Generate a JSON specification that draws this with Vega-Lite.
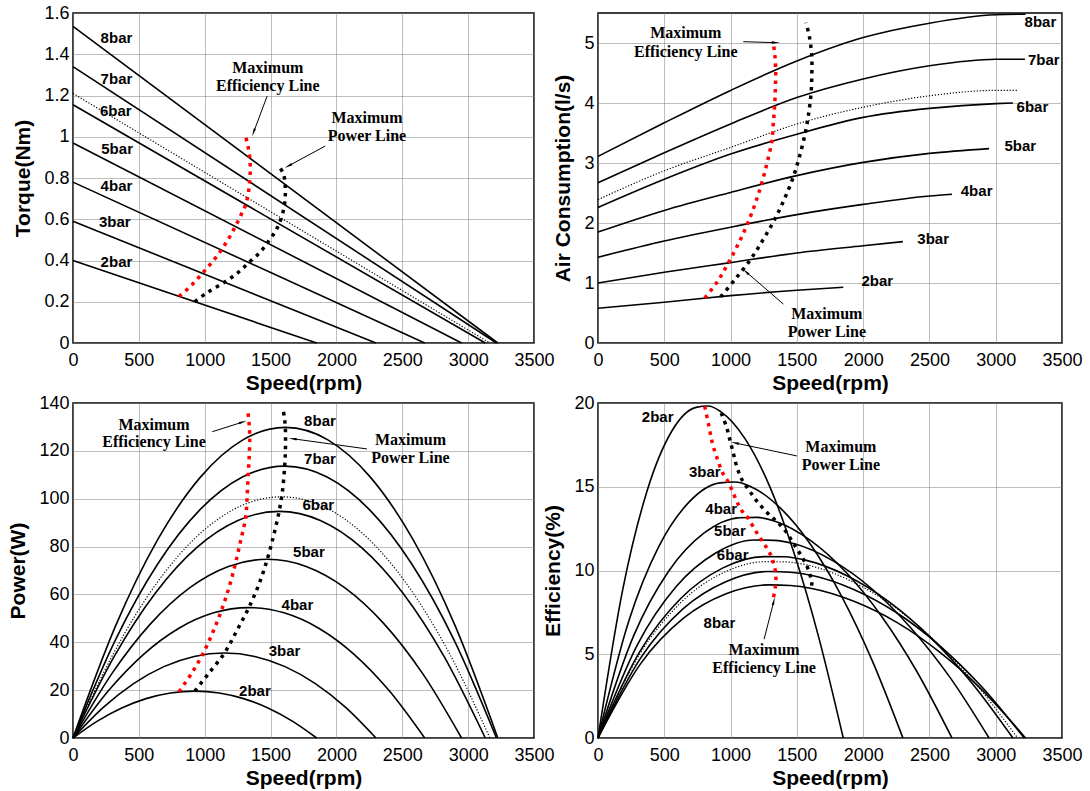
{
  "$schema": "https://vega.github.io/schema/vega-lite/v6.json",
  "padding": {"left": 7, "top": 3, "right": 0, "bottom": 0},
  "background": "white",
  "bounds": "flush",
  "columns": 2,
  "spacing": {"row": 60, "column": 64},
  "datasets": {
    "tq": [
      {"s":"8bar","x":0,"y":1.535},{"s":"8bar","x":3225,"y":0},
      {"s":"7bar","x":0,"y":1.34},{"s":"7bar","x":3215,"y":0},
      {"s":"dotted","x":0,"y":1.21},{"s":"dotted","x":3165,"y":0},
      {"s":"6bar","x":0,"y":1.155},{"s":"6bar","x":3130,"y":0},
      {"s":"5bar","x":0,"y":0.97},{"s":"5bar","x":2950,"y":0},
      {"s":"4bar","x":0,"y":0.78},{"s":"4bar","x":2670,"y":0},
      {"s":"3bar","x":0,"y":0.59},{"s":"3bar","x":2300,"y":0},
      {"s":"2bar","x":0,"y":0.40},{"s":"2bar","x":1850,"y":0},
      {"s":"maxeff","x":805,"y":0.226},{"s":"maxeff","x":900,"y":0.28},{"s":"maxeff","x":982,"y":0.338},{"s":"maxeff","x":1060,"y":0.395},{"s":"maxeff","x":1126,"y":0.451},{"s":"maxeff","x":1185,"y":0.51},{"s":"maxeff","x":1232,"y":0.565},{"s":"maxeff","x":1275,"y":0.62},{"s":"maxeff","x":1311,"y":0.671},{"s":"maxeff","x":1332,"y":0.73},{"s":"maxeff","x":1342,"y":0.79},{"s":"maxeff","x":1346,"y":0.85},{"s":"maxeff","x":1340,"y":0.91},{"s":"maxeff","x":1327,"y":0.96},{"s":"maxeff","x":1313,"y":0.995},
      {"s":"maxpow","x":925,"y":0.20},{"s":"maxpow","x":1020,"y":0.245},{"s":"maxpow","x":1150,"y":0.295},{"s":"maxpow","x":1250,"y":0.34},{"s":"maxpow","x":1335,"y":0.39},{"s":"maxpow","x":1420,"y":0.44},{"s":"maxpow","x":1475,"y":0.485},{"s":"maxpow","x":1530,"y":0.535},{"s":"maxpow","x":1565,"y":0.578},{"s":"maxpow","x":1600,"y":0.65},{"s":"maxpow","x":1612,"y":0.72},{"s":"maxpow","x":1610,"y":0.77},{"s":"maxpow","x":1598,"y":0.82},{"s":"maxpow","x":1565,"y":0.855}
    ],
    "tq_lab": [
      {"t":"8bar","x":330,"y":1.479},{"t":"7bar","x":330,"y":1.282},{"t":"6bar","x":325,"y":1.127},{"t":"5bar","x":335,"y":0.942},{"t":"4bar","x":330,"y":0.761},{"t":"3bar","x":317,"y":0.587},{"t":"2bar","x":330,"y":0.395}
    ],
    "tq_ann": [
      {"t":"Maximum","x":1479,"y":1.334},{"t":"Efficiency Line","x":1479,"y":1.245},{"t":"Maximum","x":2232,"y":1.092},{"t":"Power Line","x":2232,"y":1.003}
    ],
    "tq_arr": [
      {"id":"e","x":1374,"y":1.027,"x2":1474,"y2":1.197},
      {"id":"p","x":1643,"y":0.861,"x2":1915,"y2":0.955}
    ],
    "air": [
      {"s":"8bar","x":0,"y":3.11},{"s":"8bar","x":500,"y":3.67},{"s":"8bar","x":1000,"y":4.21},{"s":"8bar","x":1500,"y":4.70},{"s":"8bar","x":2000,"y":5.09},{"s":"8bar","x":2500,"y":5.33},{"s":"8bar","x":3000,"y":5.47},{"s":"8bar","x":3225,"y":5.48},
      {"s":"7bar","x":0,"y":2.67},{"s":"7bar","x":500,"y":3.17},{"s":"7bar","x":1000,"y":3.65},{"s":"7bar","x":1500,"y":4.09},{"s":"7bar","x":2000,"y":4.40},{"s":"7bar","x":2500,"y":4.62},{"s":"7bar","x":3000,"y":4.73},{"s":"7bar","x":3220,"y":4.73},
      {"s":"dotted","x":0,"y":2.39},{"s":"dotted","x":500,"y":2.87},{"s":"dotted","x":1000,"y":3.26},{"s":"dotted","x":1500,"y":3.65},{"s":"dotted","x":2000,"y":3.93},{"s":"dotted","x":2500,"y":4.12},{"s":"dotted","x":3000,"y":4.21},{"s":"dotted","x":3170,"y":4.21},
      {"s":"6bar","x":0,"y":2.26},{"s":"6bar","x":500,"y":2.73},{"s":"6bar","x":1000,"y":3.15},{"s":"6bar","x":1500,"y":3.48},{"s":"6bar","x":2000,"y":3.76},{"s":"6bar","x":2500,"y":3.91},{"s":"6bar","x":3000,"y":3.99},{"s":"6bar","x":3130,"y":4.0},
      {"s":"5bar","x":0,"y":1.85},{"s":"5bar","x":500,"y":2.21},{"s":"5bar","x":1000,"y":2.51},{"s":"5bar","x":1500,"y":2.79},{"s":"5bar","x":2000,"y":3.01},{"s":"5bar","x":2500,"y":3.16},{"s":"5bar","x":2950,"y":3.24},
      {"s":"4bar","x":0,"y":1.43},{"s":"4bar","x":500,"y":1.70},{"s":"4bar","x":1000,"y":1.93},{"s":"4bar","x":1500,"y":2.14},{"s":"4bar","x":2000,"y":2.31},{"s":"4bar","x":2500,"y":2.45},{"s":"4bar","x":2670,"y":2.48},
      {"s":"3bar","x":0,"y":1.0},{"s":"3bar","x":500,"y":1.18},{"s":"3bar","x":1000,"y":1.34},{"s":"3bar","x":1500,"y":1.50},{"s":"3bar","x":2000,"y":1.62},{"s":"3bar","x":2300,"y":1.69},
      {"s":"2bar","x":0,"y":0.58},{"s":"2bar","x":500,"y":0.68},{"s":"2bar","x":1000,"y":0.79},{"s":"2bar","x":1500,"y":0.88},{"s":"2bar","x":1850,"y":0.93},
      {"s":"maxeff","x":805,"y":0.75},{"s":"maxeff","x":900,"y":1.02},{"s":"maxeff","x":982,"y":1.33},{"s":"maxeff","x":1060,"y":1.66},{"s":"maxeff","x":1126,"y":1.98},{"s":"maxeff","x":1185,"y":2.32},{"s":"maxeff","x":1232,"y":2.64},{"s":"maxeff","x":1275,"y":3.0},{"s":"maxeff","x":1311,"y":3.36},{"s":"maxeff","x":1322,"y":3.65},{"s":"maxeff","x":1332,"y":3.94},{"s":"maxeff","x":1338,"y":4.25},{"s":"maxeff","x":1340,"y":4.54},{"s":"maxeff","x":1334,"y":4.8},{"s":"maxeff","x":1320,"y":5.03},
      {"s":"maxpow","x":925,"y":0.77},{"s":"maxpow","x":1030,"y":1.05},{"s":"maxpow","x":1150,"y":1.39},{"s":"maxpow","x":1245,"y":1.72},{"s":"maxpow","x":1335,"y":2.07},{"s":"maxpow","x":1410,"y":2.42},{"s":"maxpow","x":1475,"y":2.78},{"s":"maxpow","x":1525,"y":3.15},{"s":"maxpow","x":1565,"y":3.52},{"s":"maxpow","x":1590,"y":3.84},{"s":"maxpow","x":1607,"y":4.16},{"s":"maxpow","x":1613,"y":4.48},{"s":"maxpow","x":1612,"y":4.79},{"s":"maxpow","x":1595,"y":5.1},{"s":"maxpow","x":1569,"y":5.34}
    ],
    "air_lab": [
      {"t":"8bar","x":3337,"y":5.355},{"t":"7bar","x":3363,"y":4.717},{"t":"6bar","x":3277,"y":3.935},{"t":"5bar","x":3185,"y":3.285},{"t":"4bar","x":2856,"y":2.536},{"t":"3bar","x":2528,"y":1.731},{"t":"2bar","x":2107,"y":1.027}
    ],
    "air_ann": [
      {"t":"Maximum","x":662,"y":5.161},{"t":"Efficiency Line","x":662,"y":4.856},{"t":"Maximum","x":1726,"y":0.483},{"t":"Power Line","x":1726,"y":0.189}
    ],
    "air_arr": [
      {"id":"e","x":1332,"y":5.006,"x2":1096,"y2":5.022},
      {"id":"p","x":1122,"y":1.176,"x2":1398,"y2":0.649}
    ],
    "pw": [
      {"s":"2bar","x":0,"y":0},{"s":"2bar","x":185,"y":7.06},{"s":"2bar","x":370,"y":12.54},{"s":"2bar","x":555,"y":16.46},{"s":"2bar","x":740,"y":18.82},{"s":"2bar","x":925,"y":19.6},{"s":"2bar","x":1110,"y":18.82},{"s":"2bar","x":1295,"y":16.46},{"s":"2bar","x":1480,"y":12.54},{"s":"2bar","x":1665,"y":7.06},{"s":"2bar","x":1850,"y":0},
      {"s":"3bar","x":0,"y":0},{"s":"3bar","x":230,"y":12.78},{"s":"3bar","x":460,"y":22.72},{"s":"3bar","x":690,"y":29.82},{"s":"3bar","x":920,"y":34.08},{"s":"3bar","x":1150,"y":35.5},{"s":"3bar","x":1380,"y":34.08},{"s":"3bar","x":1610,"y":29.82},{"s":"3bar","x":1840,"y":22.72},{"s":"3bar","x":2070,"y":12.78},{"s":"3bar","x":2300,"y":0},
      {"s":"4bar","x":0,"y":0},{"s":"4bar","x":267,"y":19.62},{"s":"4bar","x":534,"y":34.88},{"s":"4bar","x":801,"y":45.78},{"s":"4bar","x":1068,"y":52.32},{"s":"4bar","x":1335,"y":54.5},{"s":"4bar","x":1602,"y":52.32},{"s":"4bar","x":1869,"y":45.78},{"s":"4bar","x":2136,"y":34.88},{"s":"4bar","x":2403,"y":19.62},{"s":"4bar","x":2670,"y":0},
      {"s":"5bar","x":0,"y":0},{"s":"5bar","x":295,"y":26.89},{"s":"5bar","x":590,"y":47.81},{"s":"5bar","x":885,"y":62.75},{"s":"5bar","x":1180,"y":71.71},{"s":"5bar","x":1475,"y":74.7},{"s":"5bar","x":1770,"y":71.71},{"s":"5bar","x":2065,"y":62.75},{"s":"5bar","x":2360,"y":47.81},{"s":"5bar","x":2655,"y":26.89},{"s":"5bar","x":2950,"y":0},
      {"s":"6bar","x":0,"y":0},{"s":"6bar","x":313,"y":34.09},{"s":"6bar","x":626,"y":60.61},{"s":"6bar","x":939,"y":79.55},{"s":"6bar","x":1252,"y":90.91},{"s":"6bar","x":1565,"y":94.7},{"s":"6bar","x":1878,"y":90.91},{"s":"6bar","x":2191,"y":79.55},{"s":"6bar","x":2504,"y":60.61},{"s":"6bar","x":2817,"y":34.09},{"s":"6bar","x":3130,"y":0},
      {"s":"dotted","x":0,"y":0},{"s":"dotted","x":316.5,"y":36.29},{"s":"dotted","x":633,"y":64.51},{"s":"dotted","x":949.5,"y":84.67},{"s":"dotted","x":1266,"y":96.77},{"s":"dotted","x":1582.5,"y":100.8},{"s":"dotted","x":1899,"y":96.77},{"s":"dotted","x":2215.5,"y":84.67},{"s":"dotted","x":2532,"y":64.51},{"s":"dotted","x":2848.5,"y":36.29},{"s":"dotted","x":3165,"y":0},
      {"s":"7bar","x":0,"y":0},{"s":"7bar","x":321.5,"y":40.9},{"s":"7bar","x":643,"y":72.7},{"s":"7bar","x":964.5,"y":95.42},{"s":"7bar","x":1286,"y":109.06},{"s":"7bar","x":1607.5,"y":113.6},{"s":"7bar","x":1929,"y":109.06},{"s":"7bar","x":2250.5,"y":95.42},{"s":"7bar","x":2572,"y":72.7},{"s":"7bar","x":2893.5,"y":40.9},{"s":"7bar","x":3215,"y":0},
      {"s":"8bar","x":0,"y":0},{"s":"8bar","x":322.5,"y":46.73},{"s":"8bar","x":645,"y":83.07},{"s":"8bar","x":967.5,"y":109.03},{"s":"8bar","x":1290,"y":124.61},{"s":"8bar","x":1612.5,"y":129.8},{"s":"8bar","x":1935,"y":124.61},{"s":"8bar","x":2257.5,"y":109.03},{"s":"8bar","x":2580,"y":83.07},{"s":"8bar","x":2902.5,"y":46.73},{"s":"8bar","x":3225,"y":0},
      {"s":"maxeff","x":805,"y":19.3},{"s":"maxeff","x":900,"y":27},{"s":"maxeff","x":982,"y":34.7},{"s":"maxeff","x":1060,"y":44},{"s":"maxeff","x":1126,"y":53.2},{"s":"maxeff","x":1185,"y":63},{"s":"maxeff","x":1232,"y":72.7},{"s":"maxeff","x":1275,"y":83},{"s":"maxeff","x":1311,"y":92.2},{"s":"maxeff","x":1322,"y":101},{"s":"maxeff","x":1330,"y":110},{"s":"maxeff","x":1338,"y":118},{"s":"maxeff","x":1342,"y":126},{"s":"maxeff","x":1336,"y":132},{"s":"maxeff","x":1326,"y":137.5},
      {"s":"maxpow","x":925,"y":19.6},{"s":"maxpow","x":1030,"y":27},{"s":"maxpow","x":1150,"y":35.5},{"s":"maxpow","x":1245,"y":45},{"s":"maxpow","x":1335,"y":54.5},{"s":"maxpow","x":1410,"y":64},{"s":"maxpow","x":1475,"y":74.7},{"s":"maxpow","x":1525,"y":85},{"s":"maxpow","x":1565,"y":94.7},{"s":"maxpow","x":1592,"y":104},{"s":"maxpow","x":1607,"y":113.6},{"s":"maxpow","x":1613,"y":121},{"s":"maxpow","x":1612,"y":129.8},{"s":"maxpow","x":1605,"y":134},{"s":"maxpow","x":1593,"y":137.7}
    ],
    "pw_lab": [
      {"t":"8bar","x":1875,"y":132.6},{"t":"7bar","x":1875,"y":116.6},{"t":"6bar","x":1862,"y":97.4},{"t":"5bar","x":1791,"y":77.9},{"t":"4bar","x":1704,"y":55.7},{"t":"3bar","x":1606,"y":36.5},{"t":"2bar","x":1381,"y":19.8}
    ],
    "pw_ann": [
      {"t":"Maximum","x":615,"y":130.8},{"t":"Efficiency Line","x":615,"y":123.6},{"t":"Maximum","x":2562,"y":124.7},{"t":"Power Line","x":2562,"y":117.0}
    ],
    "pw_arr": [
      {"id":"e","x":1281,"y":131.9,"x2":1057,"y2":128.0},
      {"id":"p","x":1677,"y":125.0,"x2":2232,"y2":120.8}
    ],
    "ef": [
      {"s":"2bar","x":0,"y":0},{"s":"2bar","x":185,"y":8.80},{"s":"2bar","x":370,"y":14.75},{"s":"2bar","x":555,"y":18.30},{"s":"2bar","x":740,"y":19.74},{"s":"2bar","x":832,"y":19.82},{"s":"2bar","x":925,"y":19.49},{"s":"2bar","x":1110,"y":17.86},{"s":"2bar","x":1295,"y":15.02},{"s":"2bar","x":1480,"y":11.01},{"s":"2bar","x":1665,"y":6.01},{"s":"2bar","x":1850,"y":0},
      {"s":"3bar","x":0,"y":0},{"s":"3bar","x":230,"y":6.93},{"s":"3bar","x":460,"y":11.45},{"s":"3bar","x":690,"y":14.11},{"s":"3bar","x":920,"y":15.23},{"s":"3bar","x":1035,"y":15.28},{"s":"3bar","x":1150,"y":15.02},{"s":"3bar","x":1380,"y":13.69},{"s":"3bar","x":1610,"y":11.48},{"s":"3bar","x":1840,"y":8.43},{"s":"3bar","x":2070,"y":4.59},{"s":"3bar","x":2300,"y":0},
      {"s":"4bar","x":0,"y":0},{"s":"4bar","x":267,"y":6.07},{"s":"4bar","x":534,"y":9.97},{"s":"4bar","x":801,"y":12.24},{"s":"4bar","x":1068,"y":13.15},{"s":"4bar","x":1201,"y":13.17},{"s":"4bar","x":1335,"y":12.94},{"s":"4bar","x":1602,"y":11.80},{"s":"4bar","x":1869,"y":9.91},{"s":"4bar","x":2136,"y":7.30},{"s":"4bar","x":2403,"y":4.00},{"s":"4bar","x":2670,"y":0},
      {"s":"5bar","x":0,"y":0},{"s":"5bar","x":295,"y":5.53},{"s":"5bar","x":590,"y":9.04},{"s":"5bar","x":885,"y":11.03},{"s":"5bar","x":1180,"y":11.82},{"s":"5bar","x":1327,"y":11.80},{"s":"5bar","x":1475,"y":11.61},{"s":"5bar","x":1770,"y":10.59},{"s":"5bar","x":2065,"y":8.91},{"s":"5bar","x":2360,"y":6.57},{"s":"5bar","x":2655,"y":3.62},{"s":"5bar","x":2950,"y":0},
      {"s":"6bar","x":0,"y":0},{"s":"6bar","x":313,"y":5.13},{"s":"6bar","x":626,"y":8.34},{"s":"6bar","x":939,"y":10.14},{"s":"6bar","x":1252,"y":10.83},{"s":"6bar","x":1408,"y":10.82},{"s":"6bar","x":1565,"y":10.62},{"s":"6bar","x":1878,"y":9.69},{"s":"6bar","x":2191,"y":8.16},{"s":"6bar","x":2504,"y":6.04},{"s":"6bar","x":2817,"y":3.32},{"s":"6bar","x":3130,"y":0},
      {"s":"dotted","x":0,"y":0},{"s":"dotted","x":316,"y":5.02},{"s":"dotted","x":633,"y":8.15},{"s":"dotted","x":949,"y":9.88},{"s":"dotted","x":1266,"y":10.53},{"s":"dotted","x":1424,"y":10.51},{"s":"dotted","x":1582,"y":10.32},{"s":"dotted","x":1899,"y":9.41},{"s":"dotted","x":2215,"y":7.94},{"s":"dotted","x":2532,"y":5.88},{"s":"dotted","x":2848,"y":3.24},{"s":"dotted","x":3165,"y":0},
      {"s":"7bar","x":0,"y":0},{"s":"7bar","x":321,"y":4.77},{"s":"7bar","x":643,"y":7.72},{"s":"7bar","x":964,"y":9.33},{"s":"7bar","x":1286,"y":9.94},{"s":"7bar","x":1447,"y":9.90},{"s":"7bar","x":1607,"y":9.72},{"s":"7bar","x":1929,"y":8.87},{"s":"7bar","x":2250,"y":7.49},{"s":"7bar","x":2572,"y":5.55},{"s":"7bar","x":2893,"y":3.07},{"s":"7bar","x":3215,"y":0},
      {"s":"8bar","x":0,"y":0},{"s":"8bar","x":322,"y":4.44},{"s":"8bar","x":645,"y":7.15},{"s":"8bar","x":967,"y":8.61},{"s":"8bar","x":1290,"y":9.14},{"s":"8bar","x":1451,"y":9.10},{"s":"8bar","x":1612,"y":8.93},{"s":"8bar","x":1935,"y":8.15},{"s":"8bar","x":2257,"y":6.89},{"s":"8bar","x":2580,"y":5.11},{"s":"8bar","x":2902,"y":2.83},{"s":"8bar","x":3225,"y":0},
      {"s":"maxeff","x":805,"y":19.8},{"s":"maxeff","x":837,"y":18.6},{"s":"maxeff","x":863,"y":17.6},{"s":"maxeff","x":903,"y":16.6},{"s":"maxeff","x":942,"y":15.8},{"s":"maxeff","x":982,"y":15.3},{"s":"maxeff","x":1021,"y":14.6},{"s":"maxeff","x":1061,"y":13.9},{"s":"maxeff","x":1100,"y":13.4},{"s":"maxeff","x":1126,"y":13.2},{"s":"maxeff","x":1179,"y":12.5},{"s":"maxeff","x":1218,"y":12.0},{"s":"maxeff","x":1253,"y":11.6},{"s":"maxeff","x":1284,"y":11.2},{"s":"maxeff","x":1311,"y":10.8},{"s":"maxeff","x":1324,"y":10.4},{"s":"maxeff","x":1337,"y":10.0},{"s":"maxeff","x":1342,"y":9.5},{"s":"maxeff","x":1337,"y":9.0},{"s":"maxeff","x":1324,"y":8.4},
      {"s":"maxpow","x":929,"y":19.4},{"s":"maxpow","x":968,"y":18.6},{"s":"maxpow","x":995,"y":17.8},{"s":"maxpow","x":1021,"y":17.0},{"s":"maxpow","x":1047,"y":16.2},{"s":"maxpow","x":1087,"y":15.4},{"s":"maxpow","x":1139,"y":14.8},{"s":"maxpow","x":1192,"y":14.2},{"s":"maxpow","x":1258,"y":13.6},{"s":"maxpow","x":1324,"y":13.1},{"s":"maxpow","x":1376,"y":12.7},{"s":"maxpow","x":1429,"y":12.2},{"s":"maxpow","x":1468,"y":11.7},{"s":"maxpow","x":1508,"y":11.2},{"s":"maxpow","x":1547,"y":10.7},{"s":"maxpow","x":1579,"y":10.2},{"s":"maxpow","x":1600,"y":9.7},{"s":"maxpow","x":1613,"y":9.3},{"s":"maxpow","x":1605,"y":8.8}
    ],
    "ef_lab": [
      {"t":"2bar","x":450,"y":19.16},{"t":"3bar","x":805,"y":15.86},{"t":"4bar","x":929,"y":13.7},{"t":"5bar","x":995,"y":12.34},{"t":"6bar","x":1016,"y":10.94},{"t":"8bar","x":916,"y":6.84}
    ],
    "ef_ann": [
      {"t":"Maximum","x":1832,"y":17.36},{"t":"Power Line","x":1832,"y":16.3},{"t":"Maximum","x":1253,"y":5.24},{"t":"Efficiency Line","x":1253,"y":4.16}
    ],
    "ef_arr": [
      {"id":"p","x":1042,"y":17.6,"x2":1500,"y2":16.84},
      {"id":"e","x":1324,"y":8.1,"x2":1253,"y2":5.9}
    ]
  },
  "concat": [
    {
      "width": 461, "height": 330,
      "encoding": {
        "x": {"field": "x", "type": "quantitative", "scale": {"domain": [0, 3500], "nice": false}, "axis": {"title": "Speed(rpm)", "values": [0,500,1000,1500,2000,2500,3000,3500], "format": "d"}},
        "y": {"field": "y", "type": "quantitative", "scale": {"domain": [0, 1.6], "nice": false}, "axis": {"title": "Torque(Nm)", "values": [0,0.2,0.4,0.6,0.8,1,1.2,1.4,1.6], "format": "~g"}}
      },
      "layer": [
        {"data": {"name": "tq"}, "transform": [{"filter": {"field": "s", "oneOf": ["2bar","3bar","4bar","5bar","6bar","7bar","8bar"]}}], "mark": {"type": "line", "color": "black", "strokeWidth": 1.6, "interpolate": "monotone"}, "encoding": {"detail": {"field": "s"}}},
        {"data": {"name": "tq"}, "transform": [{"filter": "datum.s === 'dotted'"}], "mark": {"type": "line", "color": "black", "strokeWidth": 1.2, "strokeDash": [1.2, 1.8]}, "encoding": {}},
        {"data": {"name": "tq"}, "transform": [{"filter": "datum.s === 'maxeff'"}], "mark": {"type": "line", "color": "#ff0000", "strokeWidth": 3.5, "strokeDash": [3.5, 5], "interpolate": "catmull-rom"}, "encoding": {"order": {"value": null}}},
        {"data": {"name": "tq"}, "transform": [{"filter": "datum.s === 'maxpow'"}], "mark": {"type": "line", "color": "black", "strokeWidth": 3.5, "strokeDash": [3.5, 5], "interpolate": "catmull-rom"}, "encoding": {"order": {"value": null}}},
        {"data": {"name": "tq_lab"}, "mark": {"type": "text", "font": "Liberation Sans", "fontWeight": "bold", "fontSize": 15, "color": "black"}, "encoding": {"text": {"field": "t"}}},
        {"data": {"name": "tq_ann"}, "mark": {"type": "text", "font": "Liberation Serif", "fontWeight": "bold", "fontSize": 16, "color": "black"}, "encoding": {"text": {"field": "t"}}},
        {"data": {"name": "tq_arr"}, "mark": {"type": "rule", "color": "black", "strokeWidth": 1}, "encoding": {"x2": {"field": "x2"}, "y2": {"field": "y2"}}},
        {"data": {"name": "tq_arr"}, "transform": [{"filter": "datum.id === 'e'"}], "mark": {"type": "point", "shape": "wedge", "filled": true, "color": "black", "opacity": 1, "size": 90, "angle": 200}, "encoding": {}},
        {"data": {"name": "tq_arr"}, "transform": [{"filter": "datum.id === 'p'"}], "mark": {"type": "point", "shape": "wedge", "filled": true, "color": "black", "opacity": 1, "size": 90, "angle": 241}, "encoding": {}}
      ]
    },
    {
      "width": 464, "height": 330,
      "encoding": {
        "x": {"field": "x", "type": "quantitative", "scale": {"domain": [0, 3500], "nice": false}, "axis": {"title": "Speed(rpm)", "values": [0,500,1000,1500,2000,2500,3000,3500], "format": "d"}},
        "y": {"field": "y", "type": "quantitative", "scale": {"domain": [0, 5.5], "nice": false}, "axis": {"title": "Air Consumption(l/s)", "values": [0,1,2,3,4,5], "format": "~g"}}
      },
      "layer": [
        {"data": {"name": "air"}, "transform": [{"filter": {"field": "s", "oneOf": ["2bar","3bar","4bar","5bar","6bar","7bar","8bar"]}}], "mark": {"type": "line", "color": "black", "strokeWidth": 1.6, "interpolate": "monotone"}, "encoding": {"detail": {"field": "s"}}},
        {"data": {"name": "air"}, "transform": [{"filter": "datum.s === 'dotted'"}], "mark": {"type": "line", "color": "black", "strokeWidth": 1.2, "strokeDash": [1.2, 1.8], "interpolate": "monotone"}, "encoding": {}},
        {"data": {"name": "air"}, "transform": [{"filter": "datum.s === 'maxeff'"}], "mark": {"type": "line", "color": "#ff0000", "strokeWidth": 3.5, "strokeDash": [3.5, 5], "interpolate": "catmull-rom"}, "encoding": {"order": {"value": null}}},
        {"data": {"name": "air"}, "transform": [{"filter": "datum.s === 'maxpow'"}], "mark": {"type": "line", "color": "black", "strokeWidth": 3.5, "strokeDash": [3.5, 5], "interpolate": "catmull-rom"}, "encoding": {"order": {"value": null}}},
        {"data": {"name": "air_lab"}, "mark": {"type": "text", "font": "Liberation Sans", "fontWeight": "bold", "fontSize": 15, "color": "black"}, "encoding": {"text": {"field": "t"}}},
        {"data": {"name": "air_ann"}, "mark": {"type": "text", "font": "Liberation Serif", "fontWeight": "bold", "fontSize": 16, "color": "black"}, "encoding": {"text": {"field": "t"}}},
        {"data": {"name": "air_arr"}, "mark": {"type": "rule", "color": "black", "strokeWidth": 1}, "encoding": {"x2": {"field": "x2"}, "y2": {"field": "y2"}}},
        {"data": {"name": "air_arr"}, "transform": [{"filter": "datum.id === 'e'"}], "mark": {"type": "point", "shape": "wedge", "filled": true, "color": "black", "opacity": 1, "size": 90, "angle": 92}, "encoding": {}},
        {"data": {"name": "air_arr"}, "transform": [{"filter": "datum.id === 'p'"}], "mark": {"type": "point", "shape": "wedge", "filled": true, "color": "black", "opacity": 1, "size": 90, "angle": 312}, "encoding": {}}
      ]
    },
    {
      "width": 461, "height": 335,
      "encoding": {
        "x": {"field": "x", "type": "quantitative", "scale": {"domain": [0, 3500], "nice": false}, "axis": {"title": "Speed(rpm)", "values": [0,500,1000,1500,2000,2500,3000,3500], "format": "d"}},
        "y": {"field": "y", "type": "quantitative", "scale": {"domain": [0, 140], "nice": false}, "axis": {"title": "Power(W)", "values": [0,20,40,60,80,100,120,140], "format": "d"}}
      },
      "layer": [
        {"data": {"name": "pw"}, "transform": [{"filter": {"field": "s", "oneOf": ["2bar","3bar","4bar","5bar","6bar","7bar","8bar"]}}], "mark": {"type": "line", "color": "black", "strokeWidth": 1.6, "interpolate": "monotone"}, "encoding": {"detail": {"field": "s"}}},
        {"data": {"name": "pw"}, "transform": [{"filter": "datum.s === 'dotted'"}], "mark": {"type": "line", "color": "black", "strokeWidth": 1.2, "strokeDash": [1.2, 1.8], "interpolate": "monotone"}, "encoding": {}},
        {"data": {"name": "pw"}, "transform": [{"filter": "datum.s === 'maxeff'"}], "mark": {"type": "line", "color": "#ff0000", "strokeWidth": 3.5, "strokeDash": [3.5, 5], "interpolate": "catmull-rom"}, "encoding": {"order": {"value": null}}},
        {"data": {"name": "pw"}, "transform": [{"filter": "datum.s === 'maxpow'"}], "mark": {"type": "line", "color": "black", "strokeWidth": 3.5, "strokeDash": [3.5, 5], "interpolate": "catmull-rom"}, "encoding": {"order": {"value": null}}},
        {"data": {"name": "pw_lab"}, "mark": {"type": "text", "font": "Liberation Sans", "fontWeight": "bold", "fontSize": 15, "color": "black"}, "encoding": {"text": {"field": "t"}}},
        {"data": {"name": "pw_ann"}, "mark": {"type": "text", "font": "Liberation Serif", "fontWeight": "bold", "fontSize": 16, "color": "black"}, "encoding": {"text": {"field": "t"}}},
        {"data": {"name": "pw_arr"}, "mark": {"type": "rule", "color": "black", "strokeWidth": 1}, "encoding": {"x2": {"field": "x2"}, "y2": {"field": "y2"}}},
        {"data": {"name": "pw_arr"}, "transform": [{"filter": "datum.id === 'e'"}], "mark": {"type": "point", "shape": "wedge", "filled": true, "color": "black", "opacity": 1, "size": 90, "angle": 72}, "encoding": {}},
        {"data": {"name": "pw_arr"}, "transform": [{"filter": "datum.id === 'p'"}], "mark": {"type": "point", "shape": "wedge", "filled": true, "color": "black", "opacity": 1, "size": 90, "angle": 278}, "encoding": {}}
      ]
    },
    {
      "width": 464, "height": 335,
      "encoding": {
        "x": {"field": "x", "type": "quantitative", "scale": {"domain": [0, 3500], "nice": false}, "axis": {"title": "Speed(rpm)", "values": [0,500,1000,1500,2000,2500,3000,3500], "format": "d"}},
        "y": {"field": "y", "type": "quantitative", "scale": {"domain": [0, 20], "nice": false}, "axis": {"title": "Efficiency(%)", "values": [0,5,10,15,20], "format": "d"}}
      },
      "layer": [
        {"data": {"name": "ef"}, "transform": [{"filter": {"field": "s", "oneOf": ["2bar","3bar","4bar","5bar","6bar","7bar","8bar"]}}], "mark": {"type": "line", "color": "black", "strokeWidth": 1.6, "interpolate": "monotone"}, "encoding": {"detail": {"field": "s"}}},
        {"data": {"name": "ef"}, "transform": [{"filter": "datum.s === 'dotted'"}], "mark": {"type": "line", "color": "black", "strokeWidth": 1.2, "strokeDash": [1.2, 1.8], "interpolate": "monotone"}, "encoding": {}},
        {"data": {"name": "ef"}, "transform": [{"filter": "datum.s === 'maxeff'"}], "mark": {"type": "line", "color": "#ff0000", "strokeWidth": 3.5, "strokeDash": [3.5, 5], "interpolate": "catmull-rom"}, "encoding": {"order": {"value": null}}},
        {"data": {"name": "ef"}, "transform": [{"filter": "datum.s === 'maxpow'"}], "mark": {"type": "line", "color": "black", "strokeWidth": 3.5, "strokeDash": [3.5, 5], "interpolate": "catmull-rom"}, "encoding": {"order": {"value": null}}},
        {"data": {"name": "ef_lab"}, "mark": {"type": "text", "font": "Liberation Sans", "fontWeight": "bold", "fontSize": 15, "color": "black"}, "encoding": {"text": {"field": "t"}}},
        {"data": {"name": "ef_ann"}, "mark": {"type": "text", "font": "Liberation Serif", "fontWeight": "bold", "fontSize": 16, "color": "black"}, "encoding": {"text": {"field": "t"}}},
        {"data": {"name": "ef_arr"}, "mark": {"type": "rule", "color": "black", "strokeWidth": 1}, "encoding": {"x2": {"field": "x2"}, "y2": {"field": "y2"}}},
        {"data": {"name": "ef_arr"}, "transform": [{"filter": "datum.id === 'p'"}], "mark": {"type": "point", "shape": "wedge", "filled": true, "color": "black", "opacity": 1, "size": 90, "angle": 282}, "encoding": {}},
        {"data": {"name": "ef_arr"}, "transform": [{"filter": "datum.id === 'e'"}], "mark": {"type": "point", "shape": "wedge", "filled": true, "color": "black", "opacity": 1, "size": 90, "angle": 14}, "encoding": {}}
      ]
    }
  ],
  "config": {
    "view": {"stroke": "black", "strokeWidth": 1.5},
    "axis": {
      "domain": false, "ticks": false, "labelFlush": false, "labelOverlap": false,
      "labelFont": "Liberation Sans", "labelFontSize": 18, "labelColor": "black",
      "titleFont": "Liberation Sans", "titleFontSize": 21, "titleFontWeight": "bold", "titleColor": "black",
      "grid": true, "gridColor": "#7a7a7a", "gridDash": [1, 1], "gridWidth": 1, "gridOpacity": 1
    },
    "axisX": {"labelPadding": 8, "titlePadding": 3},
    "axisY": {"labelPadding": 4, "titlePadding": 10},
    "text": {"align": "center", "baseline": "middle"}
  }
}
